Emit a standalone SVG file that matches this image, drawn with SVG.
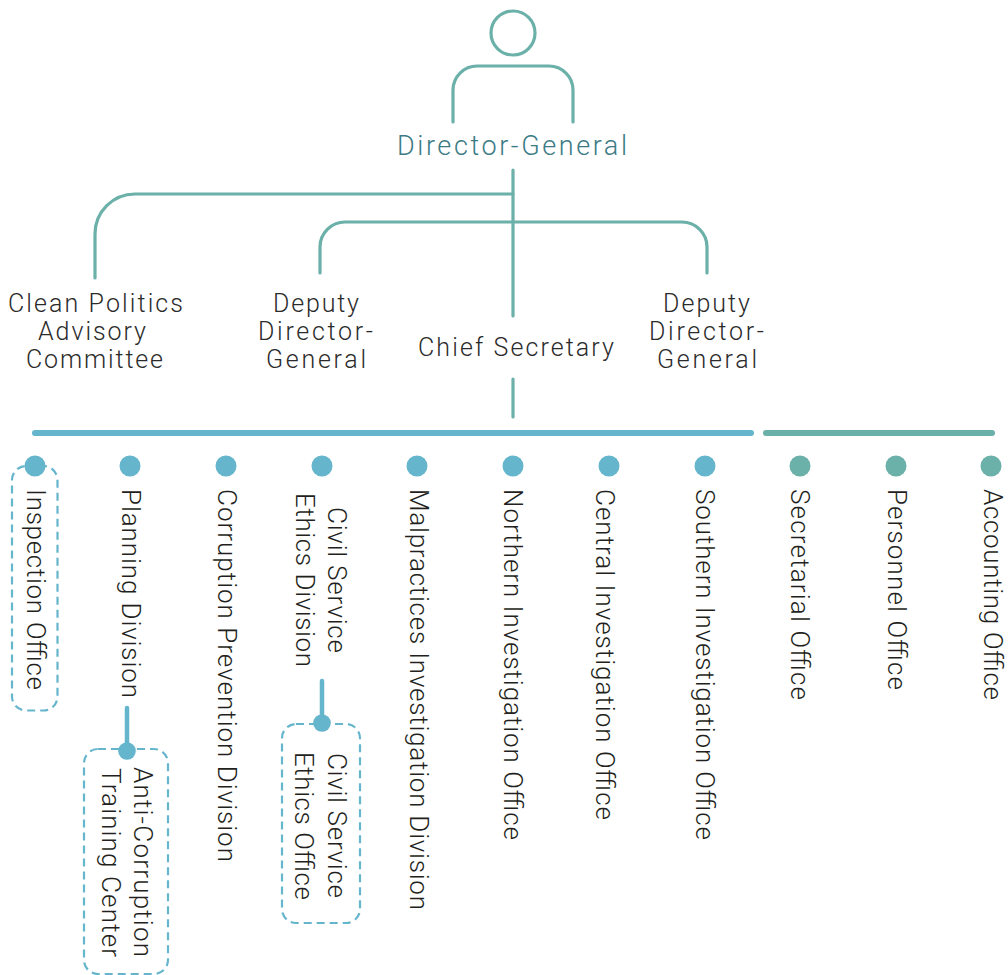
<svg xmlns="http://www.w3.org/2000/svg" width="1008" height="975" viewBox="0 0 1008 975">
<style>
text{font-family:"Roboto","Liberation Sans",sans-serif;font-size:26px;font-weight:300;fill:#231f20}
.h{fill:#2b2b2b;font-size:25px}
.t{fill:#3c7b85;font-size:27px}
.g{fill:none;stroke:#6bb0a9;stroke-width:3.200;stroke-linecap:round}
.bl{fill:none;stroke:#65b5cc;stroke-width:6;stroke-linecap:round}
.d{fill:none;stroke:#65b5cc;stroke-width:2.200;stroke-dasharray:8 5}
.db{fill:#65b5cc}.dg{fill:#6bb0a9}
</style>
<g id="connectors">
<path class="g" d="M513 170V316M513 379V417"/>
<path class="g" d="M95 278V234A40 40 0 0 1 135 194H513"/>
<path class="g" d="M320 273V247A25 25 0 0 1 345 222H682A25 25 0 0 1 707 247V273"/>
<path class="bl" d="M35 433H751"/>
<path class="bl" style="stroke:#6bb0a9" d="M766 433H992"/>
<path class="bl" style="stroke-width:4.500" d="M127 708V751M322 681V723"/>
</g>
<g id="director-general">
<circle class="g" cx="513" cy="33" r="22"/>
<path class="g" d="M453 122V90A24 24 0 0 1 477 66H549A24 24 0 0 1 573 90V122"/>
<text class="t" x="397" y="155" textLength="230">Director-General</text>
</g>
<g id="clean-politics">
<text class="h" x="8" y="311.500" textLength="175">Clean Politics</text>
<text class="h" x="38" y="339.500" textLength="108">Advisory</text>
<text class="h" x="26" y="367.500" textLength="137">Committee</text>
</g>
<g id="deputy-1">
<text class="h" x="273" y="311.500" textLength="86">Deputy</text>
<text class="h" x="258" y="339.500" textLength="115">Director-</text>
<text class="h" x="266" y="367.500" textLength="100">General</text>
</g>
<g id="chief-secretary"><text class="h" x="418" y="355.500" textLength="196">Chief Secretary</text></g>
<g id="deputy-2">
<text class="h" x="663" y="311.500" textLength="87">Deputy</text>
<text class="h" x="649" y="339.500" textLength="115">Director-</text>
<text class="h" x="657" y="367.500" textLength="100">General</text>
</g>
<g id="inspection-office">
<rect class="d" x="12" y="466" width="45.500" height="244.500" rx="14"/>
<circle class="db" cx="35" cy="466" r="10.500"/>
<text transform="translate(26.500 489) rotate(90)" textLength="201">Inspection Office</text>
</g>
<g id="planning-division">
<circle class="db" cx="130" cy="466" r="10.500"/>
<text transform="translate(122 489) rotate(90)" textLength="209">Planning Division</text>
</g>
<g id="training-center">
<rect class="d" x="84" y="749" width="84" height="225" rx="14"/>
<circle class="db" cx="127" cy="751" r="8.800"/>
<text transform="translate(134 767) rotate(90)" textLength="190">Anti-Corruption</text>
<text transform="translate(102 768) rotate(90)" textLength="189">Training Center</text>
</g>
<g id="corruption-prevention">
<circle class="db" cx="226" cy="466" r="10.500"/>
<text transform="translate(218 489) rotate(90)" textLength="373">Corruption Prevention Division</text>
</g>
<g id="ethics-division">
<circle class="db" cx="322" cy="466" r="10.500"/>
<text transform="translate(328 507) rotate(90)" textLength="146">Civil Service</text>
<text transform="translate(296 493) rotate(90)" textLength="174">Ethics Division</text>
</g>
<g id="ethics-office">
<rect class="d" x="282" y="724" width="78" height="199" rx="14"/>
<circle class="db" cx="322" cy="723" r="8.800"/>
<text transform="translate(328 753) rotate(90)" textLength="145">Civil Service</text>
<text transform="translate(295 752) rotate(90)" textLength="148">Ethics Office</text>
</g>
<g id="malpractices">
<circle class="db" cx="417" cy="466" r="10.500"/>
<text transform="translate(410 489) rotate(90)" textLength="421">Malpractices Investigation Division</text>
</g>
<g id="northern">
<circle class="db" cx="513" cy="466" r="10.500"/>
<text transform="translate(504 489) rotate(90)" textLength="351">Northern Investigation Office</text>
</g>
<g id="central">
<circle class="db" cx="609" cy="466" r="10.500"/>
<text transform="translate(596 489) rotate(90)" textLength="331">Central Investigation Office</text>
</g>
<g id="southern">
<circle class="db" cx="705" cy="466" r="10.500"/>
<text transform="translate(696 489) rotate(90)" textLength="351">Southern Investigation Office</text>
</g>
<g id="secretarial">
<circle class="dg" cx="800" cy="466" r="10.500"/>
<text transform="translate(791 489) rotate(90)" textLength="211">Secretarial Office</text>
</g>
<g id="personnel">
<circle class="dg" cx="896" cy="466" r="10.500"/>
<text transform="translate(888 489) rotate(90)" textLength="201">Personnel Office</text>
</g>
<g id="accounting">
<circle class="dg" cx="991" cy="466" r="10.500"/>
<text transform="translate(984 489) rotate(90)" textLength="211">Accounting Office</text>
</g>
</svg>
